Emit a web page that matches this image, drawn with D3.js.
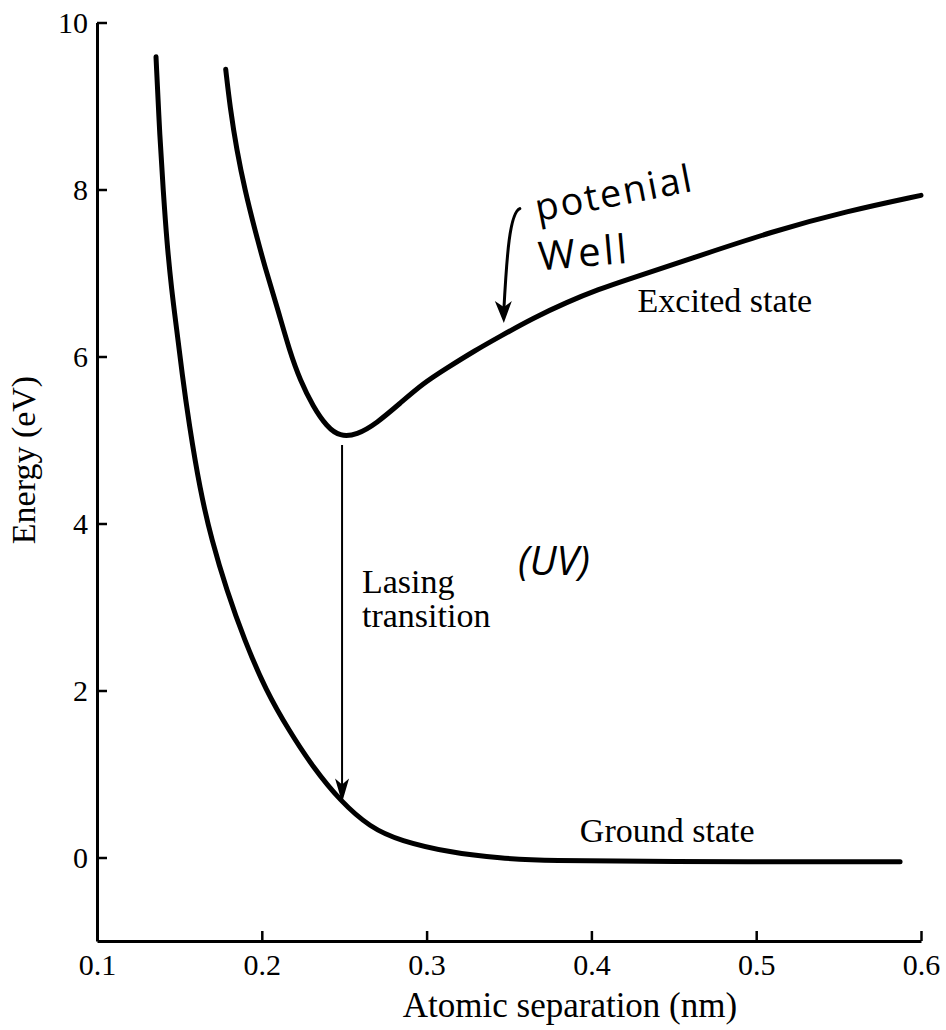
<!DOCTYPE html>
<html>
<head>
<meta charset="utf-8">
<script src="https://cdn.jsdelivr.net/npm/d3@7"></script>
<style>
  body { margin: 0; background: #fff; }
  text { font-family: "Liberation Serif", "Times New Roman", serif; fill: #000; }
  .hand { font-family: "Open Sans", "DejaVu Sans", sans-serif; font-weight: 400; }
</style>
</head>
<body>
<script>
// atomic separation (nm) / energy (eV)
const groundX = [0.1358, 0.1382, 0.1402, 0.1423, 0.1453, 0.1484, 0.1516, 0.1558, 0.1625, 0.1696, 0.1787, 0.1895, 0.2025, 0.2165, 0.2311, 0.2475, 0.2657, 0.2839, 0.3142, 0.3445, 0.3749, 0.4356, 0.5873];
const groundE = [9.59, 8.59, 7.99, 7.39, 6.79, 6.32, 5.80, 5.20, 4.40, 3.80, 3.20, 2.60, 2.00, 1.52, 1.08, 0.68, 0.36, 0.20, 0.06, -0.01, -0.04, -0.05, -0.05];
const excitedX = [0.1781, 0.1807, 0.1848, 0.1898, 0.1959, 0.2019, 0.2092, 0.2171, 0.2232, 0.2311, 0.2394, 0.2475, 0.2576, 0.2697, 0.2839, 0.2980, 0.3122, 0.3284, 0.3445, 0.3647, 0.3850, 0.4052, 0.42, 0.46, 0.51, 0.555, 0.60];
const excitedE = [9.44, 8.99, 8.47, 7.99, 7.51, 7.07, 6.60, 6.05, 5.72, 5.40, 5.16, 5.04, 5.06, 5.20, 5.44, 5.68, 5.86, 6.06, 6.24, 6.46, 6.65, 6.81, 6.91, 7.17, 7.50, 7.74, 7.93];
const xTicks = [0.1, 0.2, 0.3, 0.4, 0.5, 0.6];
const yTicks = [0, 2, 4, 6, 8, 10];
const lasing = { x: 0.2487, from: 4.94, to: 0.66 };

const width = 946, height = 1030;
const svg = d3.select("body").append("svg").attr("width", width).attr("height", height);

const x = d3.scaleLinear().domain([0.1, 0.6]).range([97, 921]);
const y = d3.scaleLinear().domain([-1, 10]).range([941, 22.5]);

const xAxis = d3.axisBottom(x).tickValues(xTicks).tickFormat(d3.format(".1f"))
  .tickSizeInner(-10).tickSizeOuter(0).tickPadding(10);
const yAxis = d3.axisLeft(y).tickValues(yTicks).tickFormat(d3.format("d"))
  .tickSizeInner(-10).tickSizeOuter(0).tickPadding(9);

const gx = svg.append("g").attr("transform", `translate(0,${y(-1)})`).call(xAxis);
const gy = svg.append("g").attr("transform", `translate(${x(0.1)},0)`).call(yAxis);
[gx, gy].forEach(g => {
  g.select(".domain").attr("stroke", "#000").attr("stroke-width", 3);
  g.selectAll(".tick line").attr("stroke", "#000").attr("stroke-width", 2.5);
  g.selectAll(".tick text").style("font-family", "Liberation Serif, serif").style("font-size", "30px").attr("fill", "#000");
});
gx.selectAll(".tick text").attr("dy", "0.8em");

svg.append("text").attr("x", 570).attr("y", 1017).attr("text-anchor", "middle")
  .style("font-size", "35px").text("Atomic separation (nm)");
svg.append("text").attr("transform", `translate(35,460) rotate(-90)`).attr("text-anchor", "middle")
  .style("font-size", "34px").text("Energy (eV)");

const line = d3.line().x(d => x(d[0])).y(d => y(d[1])).curve(d3.curveBasis);
svg.append("path").datum(d3.zip(groundX, groundE)).attr("d", line)
  .attr("fill", "none").attr("stroke", "#000").attr("stroke-width", 5).attr("stroke-linecap", "round");
svg.append("path").datum(d3.zip(excitedX, excitedE)).attr("d", line)
  .attr("fill", "none").attr("stroke", "#000").attr("stroke-width", 5).attr("stroke-linecap", "round");

// lasing transition arrow
svg.append("line").attr("x1", x(lasing.x)).attr("x2", x(lasing.x))
  .attr("y1", y(lasing.from)).attr("y2", y(lasing.to) - 16)
  .attr("stroke", "#000").attr("stroke-width", 2);
svg.append("path")
  .attr("d", `M${x(lasing.x)},${y(lasing.to)} l-7,-24 l7,6 l7,-6 z`).attr("fill", "#000");

// printed labels
svg.append("text").attr("x", x(0.428)).attr("y", y(6.53)).style("font-size", "34px").text("Excited state");
svg.append("text").attr("x", x(0.2608)).attr("y", y(3.17)).style("font-size", "34px").text("Lasing");
svg.append("text").attr("x", x(0.2608)).attr("y", y(2.76)).style("font-size", "34px").text("transition");
svg.append("text").attr("x", x(0.393)).attr("y", y(0.18)).style("font-size", "34px").text("Ground state");

// handwritten notes
svg.append("text").attr("class", "hand")
  .attr("transform", `translate(${x(0.3675)},${y(7.62)}) rotate(-11)`)
  .style("font-size", "38px").style("letter-spacing", "2px").text("potenial");
svg.append("text").attr("class", "hand")
  .attr("transform", `translate(${x(0.3685)},${y(7.03)}) rotate(-5)`)
  .style("font-size", "40px").style("letter-spacing", "3px").text("Well");
svg.append("text").attr("class", "hand").style("font-style", "italic")
  .attr("x", x(0.3555)).attr("y", y(3.38)).style("font-size", "40px").text("(UV)");

const hx = x(0.3505), hy = y(7.70);
svg.append("path")
  .attr("d", `M${hx + 10},${hy - 6} C${hx},${hy - 2} ${hx - 3},${hy + 40} ${hx - 6},${y(6.55)}`)
  .attr("fill", "none").attr("stroke", "#000").attr("stroke-width", 3).attr("stroke-linecap", "round");
svg.append("path")
  .attr("d", `M${hx - 6},${y(6.40)} l-9,-22 l9,6 l8,-6 z`).attr("fill", "#000");
</script>
</body>
</html>
